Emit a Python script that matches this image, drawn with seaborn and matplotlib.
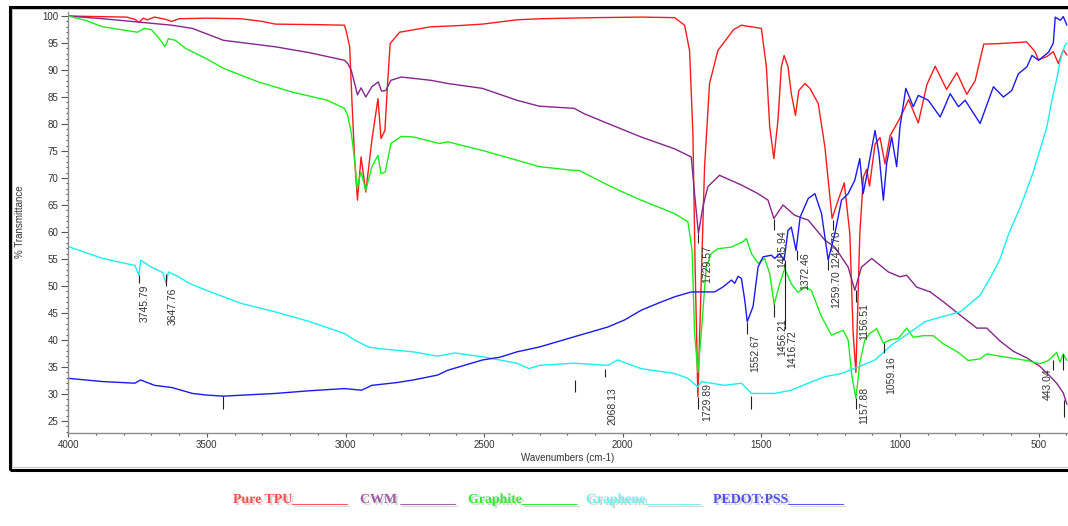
import matplotlib
matplotlib.use("Agg")
import matplotlib.pyplot as plt
from matplotlib.patches import Rectangle
from matplotlib.ticker import MultipleLocator
import matplotlib.patheffects as pe
import numpy as np
import pandas as pd
import seaborn as sns

# ---------------- data ----------------
tpu_wn = [4000, 3900, 3790, 3760, 3745, 3730, 3714, 3690, 3650, 3627, 3600, 3500, 3378, 3300, 3253, 3100,
          3004, 2998, 2985, 2977, 2967, 2957, 2944, 2927, 2905, 2883, 2872, 2858, 2849, 2839, 2805, 2693,
          2600, 2506, 2382, 2295, 2200, 2100, 1934, 1813, 1777, 1759, 1747, 1739, 1729, 1719, 1705, 1687,
          1657, 1600, 1572, 1500, 1482, 1470, 1455, 1440, 1428, 1418, 1404, 1392, 1377, 1365, 1343, 1325,
          1295, 1271, 1245, 1223, 1201, 1181, 1169, 1159, 1145, 1132, 1120, 1110, 1090, 1072, 1054, 1036,
          1000, 969, 934, 903, 873, 832, 795, 759, 729, 698, 639, 543, 513, 501, 470, 447, 429, 411, 398]
tpu_t = [100, 99.9, 99.8, 99.4, 98.8, 99.6, 99.3, 99.8, 99.4, 99.0, 99.5, 99.6, 99.5, 99.0, 98.5, 98.4,
         98.3, 97.3, 94.3, 84.4, 73.3, 65.9, 73.9, 67.4, 77.0, 84.7, 77.3, 78.8, 86.9, 94.9, 97.0, 98.0,
         98.2, 98.5, 99.3, 99.5, 99.6, 99.7, 99.8, 99.7, 98.3, 93.6, 78.2, 53.5, 29.5, 47.4, 72.0, 87.5,
         93.6, 97.5, 98.3, 97.7, 90.6, 79.5, 73.6, 80.8, 90.6, 92.7, 90.6, 85.6, 81.6, 86.2, 87.5, 86.6,
         83.8, 75.8, 62.5, 65.9, 69.1, 59.7, 41.2, 34.0, 59.7, 70.2, 71.6, 68.5, 76.3, 77.5, 72.6, 77.8,
         81.1, 84.5, 80.2, 87.3, 90.7, 86.4, 89.5, 85.5, 88.0, 94.8, 94.9, 95.2, 93.4, 91.9, 92.5, 93.4,
         91.2, 93.7, 92.8]

cwm_wn = [4000, 3876, 3751, 3627, 3552, 3440, 3253, 3129, 3004, 2992, 2979, 2967, 2957, 2944, 2927, 2905,
          2882, 2870, 2855, 2836, 2799, 2693, 2631, 2506, 2382, 2301, 2175, 2139, 2054, 1934, 1813, 1753,
          1741, 1727, 1711, 1693, 1651, 1572, 1512, 1476, 1455, 1422, 1380, 1331, 1271, 1235, 1187, 1163,
          1139, 1102, 1042, 1000, 976, 940, 891, 844, 783, 723, 687, 639, 591, 543, 495, 459, 435, 411, 398]
cwm_t = [100, 99.5, 98.9, 98.3, 97.7, 95.5, 94.3, 93.2, 91.8, 91.2, 89.9, 87.5, 85.4, 86.7, 85.0, 86.9,
         87.8, 86.1, 86.2, 88.1, 88.7, 88.1, 87.5, 86.6, 84.4, 83.3, 82.9, 81.9, 80.1, 77.6, 75.4, 73.9,
         67.1, 59.7, 64.7, 68.4, 70.5, 68.7, 67.1, 65.9, 62.5, 65.0, 63.1, 62.2, 58.5, 57.2, 53.5, 49.2,
         53.5, 55.1, 52.6, 51.7, 52.0, 49.8, 48.9, 47.1, 44.6, 42.2, 42.2, 39.8, 37.9, 36.7, 35.1, 33.3,
         32.0, 30.2, 28.1]

graphite_wn = [4000, 3938, 3876, 3813, 3751, 3726, 3701, 3676, 3651, 3639, 3614, 3577, 3502, 3440, 3315,
               3191, 3066, 3004, 2992, 2979, 2967, 2958, 2952, 2944, 2927, 2905, 2883, 2872, 2857, 2836,
               2799, 2755, 2662, 2631, 2506, 2382, 2301, 2175, 2157, 2054, 2000, 1934, 1813, 1765, 1750,
               1741, 1729, 1717, 1699, 1681, 1657, 1609, 1566, 1554, 1536, 1512, 1488, 1470, 1454, 1434,
               1416, 1392, 1368, 1343, 1320, 1283, 1247, 1205, 1187, 1173, 1159, 1145, 1127, 1109, 1084,
               1060, 1036, 1006, 976, 952, 916, 880, 844, 790, 754, 711, 687, 615, 543, 495, 465, 435,
               423, 411, 398]
graphite_t = [100, 99.2, 98.0, 97.5, 97.0, 97.7, 97.5, 96.1, 94.3, 95.8, 95.5, 94.0, 92.1, 90.3, 87.8,
              85.9, 84.4, 82.9, 81.6, 78.2, 73.3, 68.0, 69.6, 71.1, 67.7, 72.1, 74.2, 70.8, 71.1, 76.4,
              77.7, 77.6, 76.4, 76.7, 75.1, 73.3, 72.1, 71.4, 71.4, 68.7, 67.4, 65.9, 63.4, 61.9, 56.6,
              41.2, 34.0, 41.2, 53.5, 56.0, 56.9, 57.2, 58.2, 58.8, 56.0, 54.2, 55.1, 52.3, 46.6, 50.4,
              53.2, 50.4, 48.8, 49.8, 49.2, 44.3, 40.9, 41.8, 40.0, 33.2, 29.2, 35.7, 40.0, 41.2, 42.1,
              39.4, 40.0, 40.3, 42.2, 40.5, 40.8, 40.8, 39.3, 37.7, 36.2, 36.5, 37.4, 36.8, 36.2, 35.6,
              36.2, 37.7, 35.9, 37.4, 36.2]

graphene_wn = [4000, 3876, 3760, 3745, 3739, 3701, 3660, 3647, 3639, 3602, 3564, 3502, 3378, 3253, 3129,
               3004, 2967, 2917, 2880, 2755, 2668, 2606, 2506, 2444, 2382, 2338, 2301, 2175, 2054, 2018,
               1934, 1813, 1765, 1729, 1717, 1633, 1572, 1536, 1452, 1392, 1331, 1271, 1211, 1151, 1090,
               1030, 970, 910, 849, 783, 711, 669, 639, 609, 567, 548, 520, 488, 470, 452, 434, 422,
               406, 398]
graphene_t = [57.3, 55.1, 53.8, 52.0, 54.8, 53.5, 52.5, 50.5, 52.6, 51.7, 50.5, 49.2, 46.8, 45.2, 43.4,
              41.2, 40.0, 38.7, 38.4, 37.8, 37.0, 37.6, 36.9, 36.3, 35.7, 34.7, 35.3, 35.7, 35.3, 36.3,
              34.7, 33.8, 32.9, 31.3, 32.3, 31.6, 32.0, 30.1, 30.1, 30.7, 32.0, 33.2, 33.8, 35.0, 36.3,
              39.1, 41.2, 43.4, 44.3, 45.2, 48.3, 52.0, 55.0, 59.5, 64.5, 67.1, 71.0, 76.4, 79.5, 84.4,
              88.5, 91.8, 94.5, 95.0]

pedot_wn = [4000, 3876, 3760, 3739, 3689, 3627, 3552, 3502, 3440, 3253, 3129, 3004, 2942, 2905, 2817,
            2755, 2668, 2631, 2506, 2444, 2382, 2301, 2175, 2054, 1994, 1934, 1873, 1813, 1753, 1669,
            1639, 1608, 1596, 1584, 1572, 1560, 1551, 1530, 1512, 1494, 1464, 1452, 1434, 1418, 1404,
            1392, 1375, 1360, 1331, 1307, 1283, 1259, 1235, 1211, 1187, 1163, 1145, 1133, 1121, 1090,
            1076, 1060, 1048, 1030, 1012, 1000, 979, 952, 934, 898, 855, 819, 789, 765, 711, 663, 627,
            597, 573, 542, 524, 500, 464, 447, 440, 422, 411, 398]
pedot_t = [32.9, 32.3, 32.0, 32.6, 31.6, 31.2, 30.1, 29.8, 29.6, 30.1, 30.6, 31.0, 30.7, 31.6, 32.1,
           32.6, 33.5, 34.4, 36.3, 36.8, 37.8, 38.7, 40.6, 42.4, 43.7, 45.5, 46.8, 48.0, 48.9, 48.9,
           49.8, 51.1, 50.5, 51.8, 51.4, 47.4, 43.4, 46.2, 53.5, 55.4, 55.7, 55.1, 56.0, 54.8, 60.3,
           60.9, 56.6, 62.8, 66.2, 67.1, 63.4, 54.8, 59.7, 65.9, 67.1, 69.6, 73.6, 67.1, 70.2, 78.8,
           74.5, 65.9, 72.7, 77.6, 72.1, 79.5, 86.6, 83.2, 85.3, 84.4, 81.3, 85.6, 83.2, 84.4, 80.1,
           86.9, 85.0, 86.2, 89.3, 90.6, 92.7, 91.8, 93.3, 95.0, 99.8, 99.2, 99.9, 98.3]

series_names = ["Pure TPU", "CWM", "Graphite", "Graphene", "PEDOT:PSS"]
line_colors = ["#ff1a1a", "#86268c", "#1aee1a", "#1aeeee", "#1a1aee"]
legend_colors = ["#ff4d4d", "#a45aa4", "#2bef2b", "#6ff0f0", "#5050ee"]

# peak markers: (marker wavenumber, marker top %T, marker bottom %T)
marker_wn = [3745, 3649, 3442, 2171, 2063, 1727, 1729, 1551, 1536, 1454, 1454, 1414, 1370, 1259, 1243,
             1157, 1157, 1058, 447, 411, 410]
marker_top = [52.0, 52.3, 29.6, 32.6, 34.7, 59.7, 29.5, 43.4, 29.6, 62.5, 46.6, 54.8, 56.6, 54.8, 62.2,
              49.2, 29.2, 39.4, 36.3, 37.4, 28.9]
marker_bot = [50.5, 50.0, 27.3, 30.4, 33.2, 57.9, 27.3, 41.2, 27.3, 60.3, 44.3, 42.1, 54.8, 52.9, 60.3,
              47.0, 27.3, 37.5, 34.4, 34.5, 25.8]

# peak labels: text, x position (wavenumber), top of text (%T)
peak_labels = ["3745.79", "3647.76", "2068.13", "1729.57", "1729.89", "1552.67", "1455.94", "1456.21",
               "1416.72", "1372.46", "1259.70", "1242.70", "1156.51", "1157.88", "1059.16", "443.04"]
peak_label_wn = [3726, 3623, 2036, 1697, 1697, 1522, 1425, 1425, 1388, 1343, 1231, 1231, 1129, 1130,
                 1030, 466]
peak_label_top = [50.3, 49.7, 31.3, 57.6, 32.0, 41.0, 60.3, 44.0, 41.8, 56.3, 52.9, 60.4, 46.8, 31.3,
                  36.9, 34.8]

xticks = [4000, 3500, 3000, 2500, 2000, 1500, 1000, 500]
yticks = list(range(25, 101, 5))

# ---------------- figure ----------------
sns.set_theme(style="white")
plt.rcParams["font.family"] = ["Liberation Sans", "DejaVu Sans"]

W, H = 1068, 526
fig = plt.figure(figsize=(W / 100, H / 100), dpi=100)
fig.patch.set_facecolor("white")

ax_left, ax_right, ax_top, ax_bottom = 68.3, 1068, 11.7, 432.7
ax = fig.add_axes([ax_left / W, 1 - ax_bottom / H, (ax_right - ax_left) / W, (ax_bottom - ax_top) / H])
ax.set_facecolor("white")

frames = []
for name, wn, t in zip(series_names,
                       [tpu_wn, cwm_wn, graphite_wn, graphene_wn, pedot_wn],
                       [tpu_t, cwm_t, graphite_t, graphene_t, pedot_t]):
    frames.append(pd.DataFrame({"wn": wn, "T": t, "series": name, "order": range(len(wn))}))
df = pd.concat(frames, ignore_index=True)

sns.lineplot(data=df, x="wn", y="T", hue="series", hue_order=series_names,
             palette=dict(zip(series_names, line_colors)), units="series", estimator=None,
             sort=False, legend=False, linewidth=1.0, ax=ax)

ax.set_xlim(4000, 394)
ax.set_ylim(22.83, 100.8)
ax.set_xlabel("")
ax.set_ylabel("")

ax.vlines(marker_wn, marker_bot, marker_top, colors="#222222", linewidth=0.8)
for lab, xw, yt in zip(peak_labels, peak_label_wn, peak_label_top):
    ax.text(xw, yt, lab, rotation=90, ha="center", va="top", fontsize=7.5, color="#333333",
            clip_on=True)

for side in ["top", "right"]:
    ax.spines[side].set_visible(False)
for side in ["left", "bottom"]:
    ax.spines[side].set_color("#8c8c8c")
    ax.spines[side].set_linewidth(1.0)

ax.set_xticks(xticks)
ax.set_xticklabels([str(v) for v in xticks])
ax.set_yticks(yticks)
ax.set_yticklabels([str(v) for v in yticks])
ax.xaxis.set_minor_locator(MultipleLocator(100))
ax.yaxis.set_minor_locator(MultipleLocator(1))
ax.tick_params(axis="x", which="major", direction="out", length=3, width=0.8, color="#555555",
               labelsize=7, labelcolor="#333333", pad=2, bottom=True)
ax.tick_params(axis="x", which="minor", direction="out", length=1.5, width=0.8, color="#555555",
               bottom=True)
ax.tick_params(axis="y", which="major", direction="out", length=5, width=0.8, color="#555555",
               labelsize=7, labelcolor="#333333", pad=2, left=True)
ax.tick_params(axis="y", which="minor", direction="out", length=1.5, width=0.8, color="#555555",
               left=True)

fig.text(20 / W, 1 - 222 / H, "% Transmittance", rotation=90, ha="center", va="center",
         fontsize=7, color="#333333")
fig.text(568 / W, 1 - 457.7 / H, "Wavenumbers (cm-1)", ha="center", va="center",
         fontsize=7, color="#333333")

# outer frame
fig.patches.append(Rectangle((9.7 / W, 1 - 470 / H), 1.2, (470 - 6.5) / H, transform=fig.transFigure,
                             fill=False, lw=2.2, ec="black", clip_on=False))
fig.patches.append(Rectangle((12.3 / W, 1 - 467 / H), 1.2, (467 - 9.2) / H, transform=fig.transFigure,
                             fill=False, lw=0.6, ec="#bbbbbb", clip_on=False))

# legend text below
legend_x = [233, 360, 468, 586, 713]
for name, col, xp in zip(series_names, legend_colors, legend_x):
    sep = " " if name == "CWM" else ""
    fig.text(xp / W, 1 - 503 / H, name + sep + "_" * 8, ha="left", va="baseline",
             fontsize=10, fontweight="bold", color=col, family=["Liberation Serif", "DejaVu Serif"],
             path_effects=[pe.withSimplePatchShadow(offset=(1.5, -1.5), shadow_rgbFace="#777777",
                                                    alpha=0.3)])

fig.savefig("out.png", dpi=100)
